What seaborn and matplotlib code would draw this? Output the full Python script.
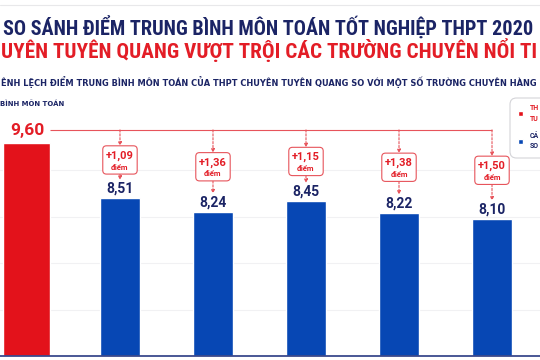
import matplotlib
matplotlib.use("Agg")
import matplotlib.pyplot as plt
import seaborn as sns
import pandas as pd
from matplotlib.patches import FancyBboxPatch, Patch
from matplotlib.lines import Line2D

# ---------------- data ----------------
schools = ["THPT Chuyên Tuyên Quang", "Trường chuyên 1", "Trường chuyên 2",
           "Trường chuyên 3", "Trường chuyên 4", "Trường chuyên 5"]
scores = [9.60, 8.51, 8.24, 8.45, 8.22, 8.10]
groups = ["TH\nTU", "CÁ\nSO"]          # legend labels as visible in the crop

title1 = "SO SÁNH ĐIỂM TRUNG BÌNH MÔN TOÁN TỐT NGHIỆP THPT 2020"
title2 = "UYÊN TUYÊN QUANG VƯỢT TRỘI CÁC TRƯỜNG CHUYÊN NỔI TI"
subtitle = "ÊNH LỆCH ĐIỂM TRUNG BÌNH MÔN TOÁN CỦA THPT CHUYÊN TUYÊN QUANG SO VỚI MỘT SỐ TRƯỜNG CHUYÊN HÀNG"
axis_title = "BÌNH MÔN TOÁN"
unit = "điểm"

# ---------------- style ----------------
RED = "#e3121b"
BLUE = "#0747b4"
NAVY = "#1b2465"
TRED = "#e31d26"
LRED = "#e7545b"

sns.set_theme(style="white")
plt.rcParams["font.family"] = ["DejaVu Sans"]
COND = ["Roboto Condensed", "Liberation Sans Narrow", "Roboto", "DejaVu Sans"]
NUM = ["Roboto", "DejaVu Sans"]

W, H = 540, 360
fig = plt.figure(figsize=(W / 100, H / 100), dpi=100)
fig.patch.set_facecolor("white")
ax = fig.add_axes([0, 4 / H, 1, 266 / H])

df = pd.DataFrame({"school": schools, "score": scores,
                   "group": [groups[0]] + [groups[1]] * (len(schools) - 1)})

sns.barplot(data=df.iloc[[0]], x="school", y="score", order=schools,
            color=RED, saturation=1, width=0.505, errorbar=None, ax=ax)
sns.barplot(data=df.iloc[1:], x="school", y="score", order=schools,
            color=BLUE, saturation=1, width=0.44, errorbar=None, ax=ax)

ax.set_xlim(-0.29, 5.516)
ax.set_ylim(5.383, 10.65)
ax.set_xlabel("")
ax.set_ylabel("")
ax.set_xticks(range(len(schools)))
ax.set_xticklabels([])
ax.set_yticks([6.29, 7.22, 8.14, 9.06])
ax.set_yticklabels([])
ax.tick_params(length=0)
ax.grid(axis="y", color="#f1f1f3", lw=0.8)
ax.set_axisbelow(True)
for s in ["top", "left", "right"]:
    ax.spines[s].set_visible(False)
ax.spines["bottom"].set_color("#3c4a8c")
ax.spines["bottom"].set_linewidth(1.3)
ax.set_facecolor("none")


def fmt(v):
    return f"{v:.2f}".replace(".", ",")


# red leader value
top_v = scores[0]
ax.text(0, top_v + 0.16, fmt(top_v), ha="center", va="baseline",
        fontsize=12.5, fontweight="bold", color=TRED, family=NUM)
line_y = top_v + 0.26
ax.plot([0.2525, len(scores) - 1], [line_y, line_y], color=LRED, lw=0.8,
        solid_capstyle="butt")

hh, hw = 0.28, 0.185
for i in range(1, len(scores)):
    v = scores[i]
    ax.text(i, v + 0.1, fmt(v), ha="center", va="baseline", fontsize=10,
            fontweight="bold", color=NAVY, family=NUM)
    yc = (line_y + v + 0.3) / 2 - 0.07
    box = FancyBboxPatch((i - hw, yc - hh), 2 * hw, 2 * hh,
                         boxstyle="round,pad=0,rounding_size=0.04",
                         mutation_aspect=93 / 50.5,
                         fc="white", ec=LRED, lw=0.8, zorder=4)
    ax.add_patch(box)
    diff = top_v - v
    ax.text(i, yc + 0.085, "+" + fmt(diff), ha="center", va="center",
            fontsize=8, fontweight="bold", color=TRED, family=NUM, zorder=5)
    ax.text(i, yc - 0.14, unit, ha="center", va="center", fontsize=5.5,
            fontweight="bold", color=TRED, family=NUM, zorder=5)
    ap = dict(arrowstyle="-|>", ls=(0, (2, 1.5)), lw=0.8, color=LRED,
              shrinkA=0, shrinkB=0, mutation_scale=5)
    ax.annotate("", xy=(i, yc + hh), xytext=(i, line_y), arrowprops=ap)
    ax.annotate("", xy=(i, v + 0.36), xytext=(i, yc - hh), arrowprops=ap)

# ---------------- header texts ----------------
renderer = fig.canvas.get_renderer()


def text_w(s, **kw):
    t = fig.text(0, 0, s, **kw)
    w = t.get_window_extent(renderer=renderer).width
    t.remove()
    return w


def fit(s, x0, x1, y_base, base, **kw):
    w = text_w(s, fontsize=base, **kw)
    size = base * (x1 - x0) / w
    fig.text(x0 / W, 1 - y_base / H, s, ha="left", va="baseline",
             fontsize=size, **kw)


fit(title1, 3, 538, 35, 14, fontweight="bold", color=NAVY, family=COND,
    fontstretch="condensed")
fit(title2, 1, 538, 58, 14, fontweight="bold", color=TRED, family=COND,
    fontstretch="condensed")
fit(subtitle, 1, 537, 86, 6, fontweight="bold", color=NAVY, family=["DejaVu Sans"])
fit(axis_title, 0.5, 64, 106, 6, fontweight="bold", color=NAVY, family=["DejaVu Sans"])

fig.add_artist(Line2D([0, 1], [1 - 5 / H, 1 - 5 / H], transform=fig.transFigure,
                      color="#e8e8ea", lw=0.8))

# ---------------- legend ----------------
frame = FancyBboxPatch((510 / W, 1 - 158 / H), 60 / W, 60 / H,
                       boxstyle="round,pad=0,rounding_size=0.012",
                       mutation_aspect=W / H,
                       transform=fig.transFigure, fc="white", ec="#d4d4d8",
                       lw=0.8, zorder=6, clip_on=False)
ax.add_patch(frame)
handles = [Patch(facecolor=RED), Patch(facecolor=BLUE)]
leg = ax.legend(handles, groups, loc="upper left",
                bbox_to_anchor=(518 / W, 1 - 104 / H), bbox_transform=fig.transFigure,
                frameon=False, handlelength=0.75, handleheight=0.75,
                handletextpad=1.0, labelspacing=1.3, borderpad=0,
                borderaxespad=0,
                prop={"family": NUM, "weight": "bold", "size": 5})
leg.set_zorder(8)
for t, c in zip(leg.get_texts(), [TRED, NAVY]):
    t.set_color(c)
    t.set_linespacing(1.45)

fig.savefig("out.png", dpi=100)
